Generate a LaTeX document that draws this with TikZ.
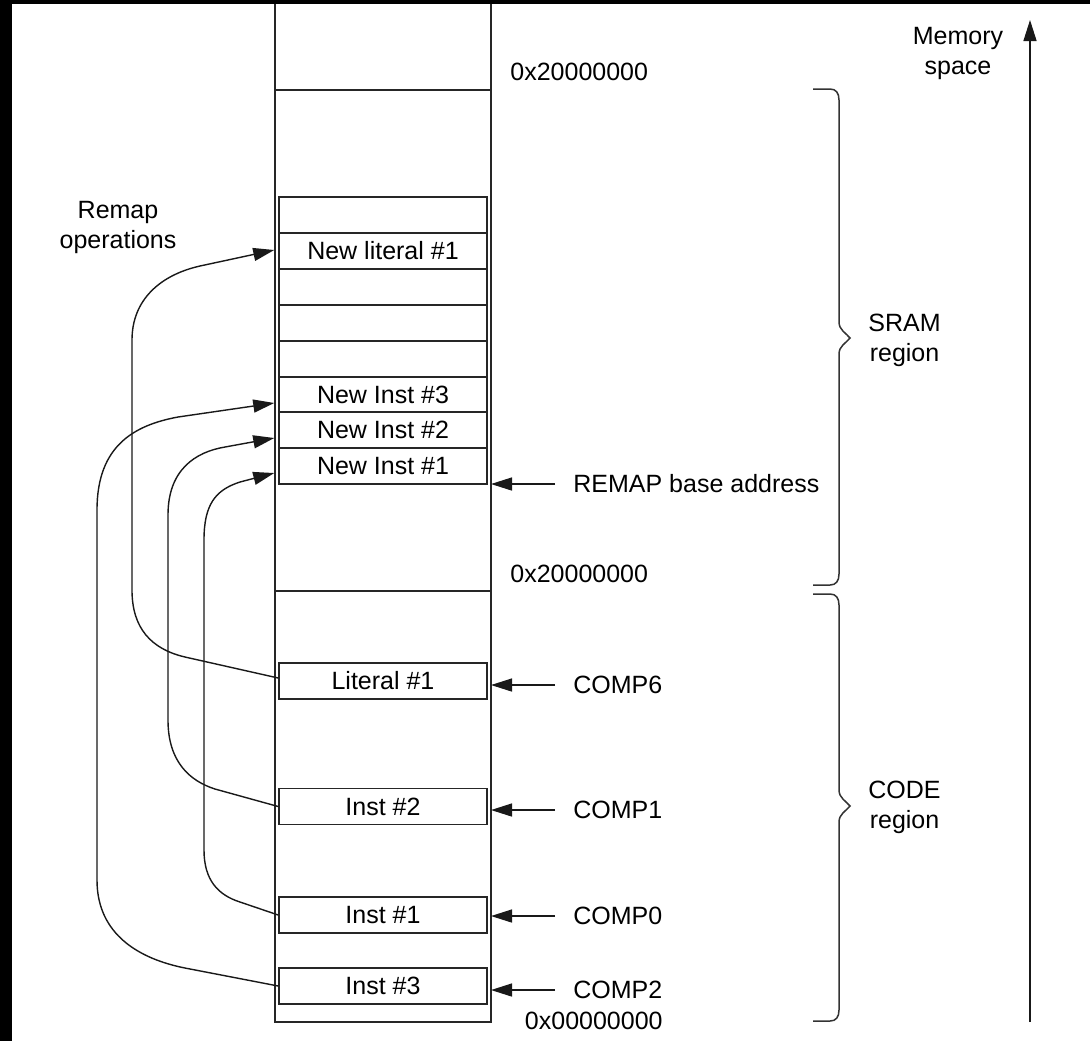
\documentclass[tikz,border=0pt]{standalone}
\usepackage{fontspec}
\setmainfont{Liberation Sans}
\usetikzlibrary{arrows.meta}
\begin{document}
\begin{tikzpicture}[x=0.5pt,y=-0.5pt,
  lbl/.style={inner sep=0pt,font=\fontsize{12.5}{15}\selectfont,align=center},
  cell/.style={draw=black!85,line width=0.75pt,minimum width=104pt,minimum height=18pt,inner sep=0pt,font=\fontsize{12.5}{15}\selectfont},
  wire/.style={draw=black!90,line width=0.7pt},
  arr/.style={wire,-{Triangle[length=10.5pt,width=6.5pt]}},
  brc/.style={draw=black!80,line width=0.75pt}]
\useasboundingbox (0,0) rectangle (1090,1041);
\fill[white] (0,0) rectangle (1090,1041);
\fill[black] (0,0) rectangle (1090,4);
\fill[black] (0,0) rectangle (12,1041);
% column
\coordinate (colL) at (275,0);
\coordinate (colR) at (491,0);
\draw[draw=black!85,line width=0.75pt] (275,4) -- (275,1022) -- (491,1022) -- (491,4);
\draw[draw=black!85,line width=1.2pt] (275,90) -- (491,90);
\draw[draw=black!85,line width=1.2pt] (275,591) -- (491,591);
% SRAM cells
\node[cell] (e1) at (383,215) {};
\node[cell] (newlit) at (383,251) {New literal \#1};
\node[cell] (e2) at (383,287) {};
\node[cell] (e3) at (383,323) {};
\node[cell] (e4) at (383,359) {};
\node[cell] (ni3) at (383,394.5) {New Inst \#3};
\node[cell] (ni2) at (383,430) {New Inst \#2};
\node[cell] (ni1) at (383,466) {New Inst \#1};
% CODE cells
\node[cell] (lit) at (383,681) {Literal \#1};
\node[cell] (inst2) at (383,806.5) {Inst \#2};
\node[cell] (inst1) at (383,915) {Inst \#1};
\node[cell] (inst3) at (383,986) {Inst \#3};
% labels
\node[lbl,anchor=west] (top20) at (510,72) {0x20000000};
\node[lbl,anchor=west] (mid20) at (510,574) {0x20000000};
\node[lbl,anchor=east] (zero) at (663,1021) {0x00000000};
\node[lbl,anchor=west] (remap) at (573,484) {REMAP base address};
\node[lbl,anchor=west] (comp6) at (573,685) {COMP6};
\node[lbl,anchor=west] (comp1) at (573,810) {COMP1};
\node[lbl,anchor=west] (comp0) at (573,916) {COMP0};
\node[lbl,anchor=west] (comp2) at (573,990) {COMP2};
\node[lbl] (mem) at (958,53) {Memory\\space};
\node[lbl,anchor=west] (sram) at (868,340) {SRAM\\region};
\node[lbl,anchor=west] (code) at (868,807) {CODE\\region};
\node[lbl] (remops) at (118,227) {Remap\\operations};
% pointer arrows
\draw[arr] ([xshift=-9pt]remap.west) -- (remap.west -| colR);
\draw[arr] ([xshift=-9pt]comp6.west) -- (comp6.west -| colR);
\draw[arr] ([xshift=-9pt]comp1.west) -- (comp1.west -| colR);
\draw[arr] ([xshift=-9pt]comp0.west) -- (comp0.west -| colR);
\draw[arr] ([xshift=-9pt]comp2.west) -- (comp2.west -| colR);
% memory space arrow
\coordinate (msb) at (1030,1022);
\coordinate (mst) at (1030,20);
\draw[arr] (msb) -- (mst);
% braces
\draw[brc] (813,89) -- (830,89) .. controls (836,89) and (839,93) .. (839,100) -- (839,322) .. controls (839,330) and (846,333) .. (850,338) .. controls (846,343) and (839,346) .. (839,354) -- (839,574) .. controls (839,581) and (836,585) .. (830,585) -- (813,585);
\draw[brc] (813,594) -- (830,594) .. controls (836,594) and (839,598) .. (839,605) -- (839,790) .. controls (839,798) and (846,801) .. (850,806) .. controls (846,811) and (839,814) .. (839,822) -- (839,1010) .. controls (839,1017) and (836,1021) .. (830,1021) -- (813,1021);
% remap connectors
\draw[arr] ([yshift=1.5pt]lit.west) -- (185,657) .. controls (151,649) and (132,628) .. (132,590) -- (132,340) .. controls (132,300) and (160,275) .. (200,266) -- ([xshift=-2pt,yshift=0.5pt]newlit.west);
\draw[arr] (inst3.west) -- (185,968) .. controls (140,959) and (97,935) .. (97,880) -- (97,510) .. controls (97,445) and (135,425) .. (178,417) -- ([xshift=-2pt,yshift=-4.25pt]ni3.west);
\draw[arr] (inst2.west) -- (215,789) .. controls (190,781) and (168,762) .. (168,720) -- (168,515) .. controls (168,470) and (195,452) .. (225,447) -- ([xshift=-2pt,yshift=-4pt]ni2.west);
\draw[arr] (inst1.west) -- (240,902) .. controls (218,895) and (204,880) .. (204,850) -- (204,540) .. controls (204,505) and (215,490) .. (240,482) -- ([xshift=-2pt,yshift=-3.5pt]ni1.west);
\end{tikzpicture}
\end{document}
